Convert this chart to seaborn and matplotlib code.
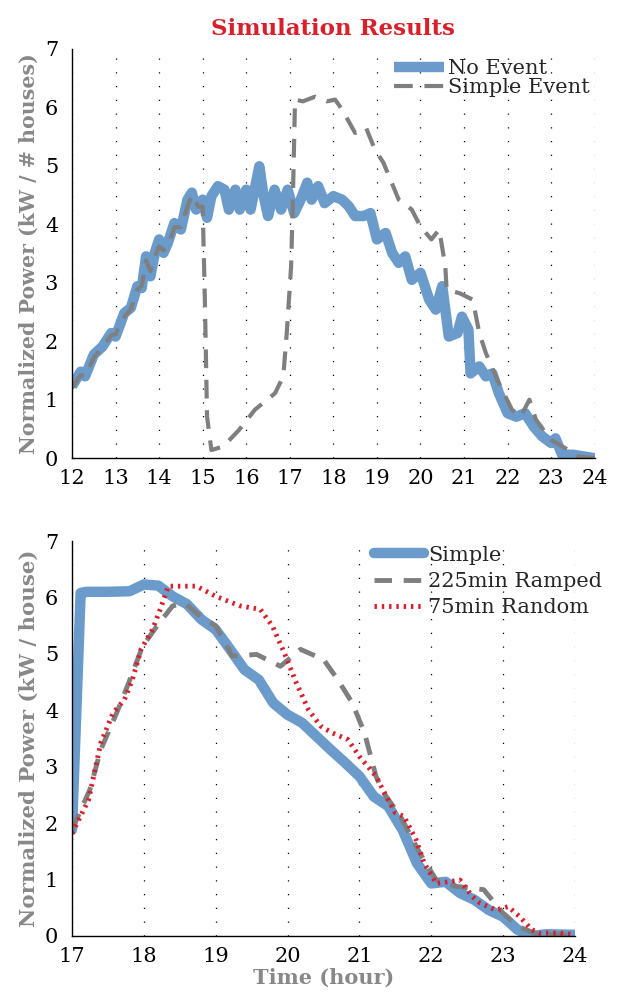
import pandas as pd
import matplotlib
matplotlib.use("Agg")
import matplotlib.pyplot as plt
import seaborn as sns

# top panel: one day, no event vs simple event
top_hour_no_event = [12.0, 12.2, 12.3, 12.5, 12.7, 12.9, 13.0, 13.2, 13.35, 13.5, 13.6, 13.7, 13.8, 13.9,
                     14.0, 14.1, 14.2, 14.35, 14.5, 14.65, 14.75, 14.85, 15.0, 15.1, 15.2, 15.35, 15.5,
                     15.6, 15.75, 15.85, 16.0, 16.1, 16.3, 16.4, 16.5, 16.65, 16.8, 16.95, 17.1, 17.25,
                     17.4, 17.5, 17.65, 17.8, 18.0, 18.2, 18.35, 18.5, 18.7, 18.85, 19.0, 19.2, 19.35,
                     19.5, 19.65, 19.8, 20.0, 20.2, 20.35, 20.5, 20.65, 20.85, 20.95, 21.1, 21.15, 21.35,
                     21.5, 21.65, 21.8, 22.0, 22.2, 22.4, 22.6, 22.8, 23.0, 23.1, 23.25, 23.5, 23.75, 24.0]
top_no_event = [1.23, 1.48, 1.40, 1.77, 1.91, 2.14, 2.08, 2.48, 2.57, 2.94, 2.91, 3.45, 3.11, 3.51,
                3.74, 3.51, 3.68, 4.02, 3.91, 4.42, 4.54, 4.25, 4.42, 4.11, 4.48, 4.65, 4.59,
                4.25, 4.59, 4.25, 4.59, 4.25, 4.99, 4.48, 4.14, 4.59, 4.25, 4.59, 4.19, 4.42,
                4.71, 4.42, 4.65, 4.36, 4.48, 4.42, 4.31, 4.14, 4.14, 4.19, 3.74, 3.85, 3.51,
                3.34, 3.45, 3.05, 3.17, 2.71, 2.54, 2.94, 2.08, 2.14, 2.42, 2.20, 1.45, 1.57,
                1.40, 1.45, 1.11, 0.77, 0.71, 0.77, 0.54, 0.37, 0.26, 0.34, 0.06, 0.06, 0.03, 0.0]

top_hour_simple = [12.0, 12.2, 12.3, 12.5, 12.7, 12.9, 13.0, 13.2, 13.35, 13.5, 13.6, 13.7, 13.8, 13.9,
                   14.0, 14.1, 14.2, 14.35, 14.5, 14.65, 14.75, 14.9, 15.0, 15.05, 15.1, 15.2, 15.47,
                   15.83, 16.2, 16.66, 16.85, 16.93, 17.03, 17.07, 17.12, 17.3, 17.58, 17.85, 18.04,
                   18.2, 18.5, 18.75, 18.95, 19.15, 19.5, 19.8, 20.0, 20.25, 20.43, 20.57, 20.6, 20.9,
                   21.2, 21.35, 21.5, 21.8, 22.1, 22.3, 22.5, 22.65, 23.0, 23.4, 23.6, 24.0]
top_simple = [1.20, 1.42, 1.40, 1.72, 1.90, 2.10, 2.12, 2.42, 2.55, 2.88, 2.95, 3.38, 3.20, 3.45,
              3.62, 3.55, 3.62, 3.95, 3.95, 4.30, 4.50, 4.30, 4.30, 2.71, 0.71, 0.14, 0.20,
              0.48, 0.83, 1.11, 1.40, 2.14, 3.28, 4.42, 6.13, 6.10, 6.18, 6.10, 6.13,
              5.96, 5.56, 5.65, 5.28, 5.05, 4.42, 4.25, 3.96, 3.74, 3.91, 3.28, 2.88, 2.82,
              2.71, 2.14, 1.80, 1.28, 0.83, 0.71, 1.00, 0.66, 0.31, 0.14, 0.03, 0.0]

# bottom panel: event strategies
bottom_hour_simple = [17.0, 17.12, 17.2, 17.5, 17.8, 18.0, 18.2, 18.4, 18.6, 18.8, 19.0, 19.2, 19.4,
                      19.6, 19.8, 20.0, 20.2, 20.4, 20.6, 20.8, 21.0, 21.2, 21.4, 21.6, 21.8, 22.0,
                      22.2, 22.4, 22.6, 22.8, 23.0, 23.2, 23.4, 23.6, 24.0]
bottom_simple = [1.88, 6.08, 6.10, 6.10, 6.11, 6.23, 6.21, 6.02, 5.88, 5.61, 5.43, 5.08, 4.72,
                 4.54, 4.13, 3.92, 3.78, 3.54, 3.30, 3.07, 2.83, 2.47, 2.30, 1.88, 1.29, 0.93,
                 0.96, 0.76, 0.64, 0.46, 0.34, 0.11, 0.0, 0.03, 0.02]

bottom_hour_ramped = [17.0, 17.25, 17.4, 17.62, 17.79, 17.98, 18.18, 18.4, 18.57, 18.8, 19.0, 19.23,
                      19.57, 19.9, 20.18, 20.5, 20.7, 20.9, 21.07, 21.23, 21.34, 21.57, 21.84, 22.07,
                      22.34, 22.73, 23.0, 23.2, 23.5, 24.0]
bottom_ramped = [1.88, 2.60, 3.30, 3.95, 4.49, 5.13, 5.49, 5.85, 5.90, 5.65, 5.50, 4.96,
                 4.99, 4.78, 5.08, 4.90, 4.54, 4.13, 3.60, 2.83, 2.53, 2.12, 1.47, 0.99,
                 0.88, 0.82, 0.40, 0.17, 0.02, 0.02]

bottom_hour_random = [17.0, 17.23, 17.4, 17.57, 17.73, 17.84, 17.96, 18.12, 18.23, 18.34, 18.73, 19.0,
                      19.34, 19.62, 19.79, 19.96, 20.12, 20.29, 20.46, 20.62, 20.84, 21.0, 21.23, 21.4,
                      21.5, 21.62, 21.79, 21.9, 22.07, 22.4, 22.57, 22.68, 22.9, 23.07, 23.23, 23.4,
                      23.5, 23.79, 24.0]
bottom_random = [1.82, 2.41, 3.42, 3.95, 4.19, 4.54, 5.08, 5.43, 5.80, 6.20, 6.20, 6.02,
                 5.85, 5.79, 5.49, 5.00, 4.49, 4.01, 3.72, 3.60, 3.48, 3.18, 2.83, 2.41,
                 2.18, 2.12, 1.70, 1.29, 0.93, 0.99, 0.70, 0.58, 0.46, 0.52, 0.34, 0.11,
                 0.05, 0.05, 0.02]

blue = "#6a9bcb"
gray = "#7f7f80"
red = "#d8202c"
label_gray = "#888888"

sns.set_style("white")
plt.rcParams["font.family"] = ["DejaVu Serif"]


def style_axes(ax, xmin, xmax):
    ax.set_xlim(xmin, xmax)
    ax.set_ylim(0, 7)
    ax.set_xticks(range(xmin, xmax + 1))
    ax.set_yticks(range(0, 8))
    ax.tick_params(direction="in", length=4, width=0.8, labelsize=15, colors="black")
    ax.tick_params(axis="y", pad=10)
    ax.tick_params(axis="x", pad=8)
    ax.xaxis.grid(True, color="black", linestyle=(0, (1, 10)), linewidth=0.9)
    ax.yaxis.grid(False)
    for side in ["top", "right"]:
        ax.spines[side].set_visible(False)
    for side in ["left", "bottom"]:
        ax.spines[side].set_color("black")
        ax.spines[side].set_linewidth(1.0)
    ax.set_xlabel("")


fig = plt.figure(figsize=(6.23, 9.94), dpi=100)
ax1 = fig.add_axes([0.1156, 0.539, 0.839, 0.412])
ax2 = fig.add_axes([0.1156, 0.0584, 0.8074, 0.3973])

df_ne = pd.DataFrame({"hour": top_hour_no_event, "power": top_no_event})
df_se = pd.DataFrame({"hour": top_hour_simple, "power": top_simple})
sns.lineplot(data=df_ne, x="hour", y="power", ax=ax1, color=blue, linewidth=7.5,
             label="No Event", solid_joinstyle="round", solid_capstyle="butt")
sns.lineplot(data=df_se, x="hour", y="power", ax=ax1, color=gray, linewidth=3,
             linestyle=(0, (4.5, 2.8)), label="Simple Event")
style_axes(ax1, 12, 24)
ax1.set_ylabel("Normalized Power (kW / # houses)", fontsize=14.8, fontweight="bold",
               color=label_gray, labelpad=4)
ax1.set_title("Simulation Results", fontsize=16.5, fontweight="bold", color=red, pad=10)
ax1.legend(loc="upper right", bbox_to_anchor=(1.01, 1.0), frameon=False, fontsize=15,
           handlelength=2.4, handletextpad=0.2, labelspacing=0.0, borderaxespad=0.1)

df_s = pd.DataFrame({"hour": bottom_hour_simple, "power": bottom_simple})
df_r = pd.DataFrame({"hour": bottom_hour_ramped, "power": bottom_ramped})
df_x = pd.DataFrame({"hour": bottom_hour_random, "power": bottom_random})
sns.lineplot(data=df_s, x="hour", y="power", ax=ax2, color=blue, linewidth=7.5,
             label="Simple", solid_joinstyle="round")
sns.lineplot(data=df_r, x="hour", y="power", ax=ax2, color=gray, linewidth=3.5,
             linestyle=(0, (3.6, 2.4)), label="225min Ramped")
sns.lineplot(data=df_x, x="hour", y="power", ax=ax2, color=red, linewidth=3.5,
             linestyle=(0, (0.5, 1.0)), label="75min Random")
style_axes(ax2, 17, 24)
ax2.set_ylabel("Normalized Power (kW / house)", fontsize=15.3, fontweight="bold",
               color=label_gray, labelpad=4)
ax2.set_xlabel("Time (hour)", fontsize=15, fontweight="bold", color=label_gray, labelpad=1)
ax2.legend(loc="upper right", bbox_to_anchor=(1.075, 1.015), frameon=False, fontsize=15,
           handlelength=2.4, handletextpad=0.2, labelspacing=0.35, borderaxespad=0.1)

fig.savefig("out.png", dpi=100)
